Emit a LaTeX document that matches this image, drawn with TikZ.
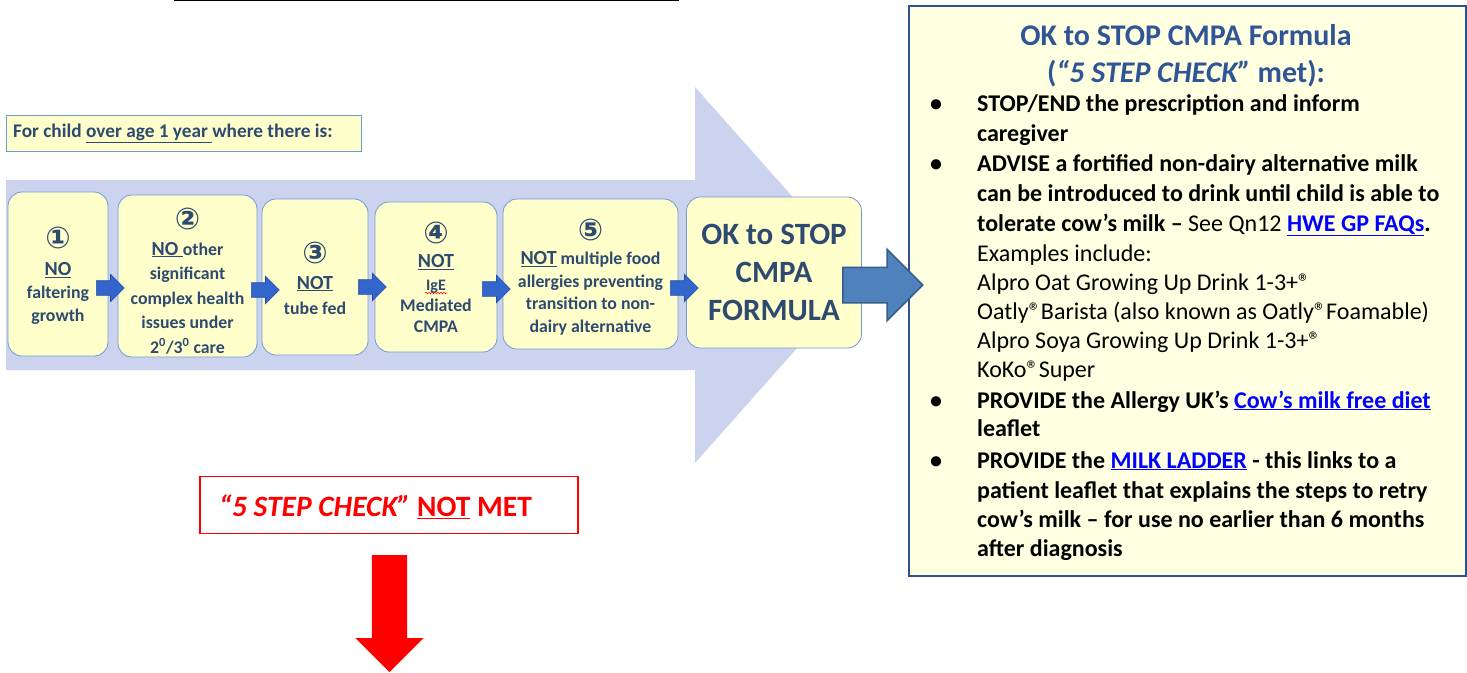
\documentclass[tikz,border=0pt]{standalone}
\usepackage{fontspec}
\setmainfont{Carlito}
\newfontfamily\dejavu{DejaVu Sans}
\usetikzlibrary{shapes.arrows,decorations.pathmorphing}
\definecolor{lav}{RGB}{204,211,238}
\definecolor{boxfill}{RGB}{255,255,204}
\definecolor{boxborder}{RGB}{110,155,214}
\definecolor{boxtext}{RGB}{46,74,112}
\definecolor{arrowfill}{RGB}{51,102,204}
\definecolor{arrowborder}{RGB}{40,80,160}
\definecolor{bigarrow}{RGB}{79,129,189}
\definecolor{bigarrowborder}{RGB}{56,93,138}
\definecolor{rbfill}{RGB}{255,255,226}
\definecolor{rbborder}{RGB}{47,82,143}
\definecolor{titleblue}{RGB}{47,85,151}
\definecolor{linkblue}{RGB}{0,0,255}
\definecolor{alertred}{RGB}{255,0,0}
\newcommand{\circnum}[1]{{\dejavu\fontsize{30}{32}\selectfont #1}}
\newcommand{\bigNO}[1]{{\fontsize{20}{22}\selectfont\underline{#1}}}
\newcommand{\lnk}[1]{{\color{linkblue}\underline{#1}}}
\begin{document}
\begin{tikzpicture}[x=1pt,y=-1pt,
  stepbox/.style={draw=boxborder, fill=boxfill, rounded corners=14pt, line width=0.8pt, inner sep=0pt},
  steptext/.style={text=boxtext, align=center, inner sep=0pt, font=\fontsize{17.8}{23}\selectfont\bfseries},
  smallarrow/.style={shape=single arrow, fill=arrowfill, draw=arrowborder, line width=0.6pt,
    minimum height=28pt, minimum width=27pt, single arrow head extend=6.5pt,
    inner xsep=0pt, inner ysep=7pt, anchor=tail},
  rline/.style={anchor=base west, inner sep=0pt, font=\fontsize{24}{29}\selectfont},
  bline/.style={rline, font=\fontsize{24}{29}\selectfont\bfseries},
  bul/.style={anchor=base, inner sep=0pt, font=\fontsize{24}{29}\selectfont\bfseries},
]
\useasboundingbox (0,0) rectangle (1467,672);

% top line (cut off at the top edge)
\coordinate (tl1) at (174,0.6);
\coordinate (tl2) at (679,0.6);
\draw[line width=1.2pt] (tl1) -- (tl2);

% big lavender arrow
\fill[lav] (6,180) -- (695,180) -- (695,87) -- (862,275) -- (695,463) -- (695,370) -- (6,370) -- cycle;

% header box
\node[draw=boxborder, fill=boxfill, line width=0.8pt, minimum height=36pt, minimum width=355pt,
  inner sep=0pt, anchor=north west] (hdr) at (6,115) {};
\node[anchor=west, inner sep=0pt, text=boxtext, font=\fontsize{19.3}{23}\selectfont\bfseries] (hdrt) at (13,133)
  {For child \underline{over age 1 year }where there is:};

% step boxes
\node[stepbox, minimum width=100pt, minimum height=164pt] (b1) at (58,274) {};
\node[stepbox, minimum width=139pt, minimum height=162pt] (b2) at (187.5,276) {};
\node[stepbox, minimum width=106pt, minimum height=156pt] (b3) at (315,277) {};
\node[stepbox, minimum width=122pt, minimum height=150pt] (b4) at (436,277) {};
\node[stepbox, minimum width=175pt, minimum height=150pt] (b5) at (590.5,274) {};
\node[stepbox, minimum width=175pt, minimum height=151pt] (ok) at (774,272.5) {};

\node[steptext] (b1t) at (58,276)
  {\circnum{①}\\[4pt]\bigNO{NO}\\faltering\\growth};
\node[steptext, font=\fontsize{17.8}{24.5}\selectfont\bfseries] (b2t) at (187.5,281)
  {\circnum{②}\\[1pt]\bigNO{NO }other\\significant\\complex health\\issues under\\2\textsuperscript{0}/3\textsuperscript{0} care};
\node[steptext] (b3t) at (315,278)
  {\circnum{③}\\[3pt]\bigNO{NOT}\\[2pt]tube fed};
\node[steptext, font=\fontsize{17.8}{21}\selectfont\bfseries] (b4t) at (436,277)
  {\circnum{④}\\[3pt]\bigNO{NOT}\\[2pt]{\fontsize{16}{18}\selectfont IgE}\\Mediated\\CMPA};
\node[steptext, font=\fontsize{17.8}{22.5}\selectfont\bfseries] (b5t) at (590.5,277)
  {\circnum{⑤}\\[2pt]\bigNO{NOT} multiple food\\allergies preventing\\transition to non-\\dairy alternative};
\node[steptext, font=\fontsize{31}{38}\selectfont\bfseries] (okt) at (774,272)
  {OK to STOP\\CMPA\\FORMULA};

% spell-check squiggle under IgE
\coordinate (sq1) at (425,293);
\coordinate (sq2) at (447,293);
\draw[alertred, line width=0.5pt, decorate, decoration={snake, amplitude=0.8pt, segment length=3pt}] (sq1) -- (sq2);

% small arrows between steps
\node[smallarrow] (a1) at (96,288) {};
\node[smallarrow] (a2) at (251,290) {};
\node[smallarrow] (a3) at (358,287) {};
\node[smallarrow] (a4) at (482,289) {};
\node[smallarrow] (a5) at (670,288) {};

% right box
\node[draw=rbborder, fill=rbfill, line width=1.6pt, minimum width=557pt, minimum height=570pt,
  anchor=north west, inner sep=0pt] (rb) at (908,5) {};

% big blue arrow from OK box to right box
\node[shape=single arrow, fill=bigarrow, draw=bigarrowborder, line width=1.5pt, anchor=tail,
  minimum height=80pt, minimum width=70pt, single arrow head extend=18pt,
  inner xsep=0pt, inner ysep=17pt] (ba) at (842,285) {};

% right box text
\node[anchor=base, inner sep=0pt, text=titleblue, font=\fontsize{30}{36}\selectfont\bfseries] (t1) at (1186,45) {OK to STOP CMPA Formula};
\node[anchor=base, inner sep=0pt, text=titleblue, font=\fontsize{30}{36}\selectfont\bfseries] (t2) at (1186,82) {(\textit{“5 STEP CHECK”} met):};

\node[bul] (u1) at (936,111) {•};
\node[bline] (l1) at (977,111) {STOP/END the prescription and inform};
\node[bline] (l2) at (977,141) {caregiver};
\node[bul] (u2) at (936,171) {•};
\node[bline] (l3) at (977,171) {ADVISE a fortified non-dairy alternative milk};
\node[bline] (l4) at (977,201) {can be introduced to drink until child is able to};
\node[rline] (l5) at (977,231) {\textbf{tolerate cow’s milk –} See Qn12 \textbf{\lnk{HWE GP FAQs}.}};
\node[rline] (l6) at (977,261) {Examples include:};
\node[rline] (l7) at (977,290) {Alpro Oat Growing Up Drink 1-3+®};
\node[rline] (l8) at (977,319) {Oatly®Barista (also known as Oatly®Foamable)};
\node[rline] (l9) at (977,348) {Alpro Soya Growing Up Drink 1-3+®};
\node[rline] (l10) at (977,377) {KoKo®Super};
\node[bul] (u3) at (936,408) {•};
\node[bline] (l11) at (977,408) {PROVIDE the Allergy UK’s \lnk{Cow’s milk free diet}};
\node[bline] (l12) at (977,436) {leaflet};
\node[bul] (u4) at (936,468) {•};
\node[bline] (l13) at (977,468) {PROVIDE the \lnk{MILK LADDER} - this links to a};
\node[bline] (l14) at (977,498) {patient leaflet that explains the steps to retry};
\node[bline] (l15) at (977,527) {cow’s milk – for use no earlier than 6 months};
\node[bline] (l16) at (977,556) {after diagnosis};

% red "not met" box and arrow
\node[draw=alertred, line width=1.5pt, minimum height=57pt, minimum width=378pt,
  inner sep=0pt] (nm) at (389,505) {};
\node[anchor=west, inner sep=0pt, text=alertred, font=\fontsize{29.5}{34}\selectfont\bfseries] (nmt) at (219,507)
  {\textit{“5 STEP CHECK”} \underline{NOT} MET};
\node[shape=single arrow, rotate=-90, anchor=tail, fill=alertred, inner xsep=0pt, inner ysep=17.5pt,
  minimum height=117pt, minimum width=68pt, single arrow head extend=16.5pt] (ra) at (389.5,555) {};
\end{tikzpicture}
\end{document}
